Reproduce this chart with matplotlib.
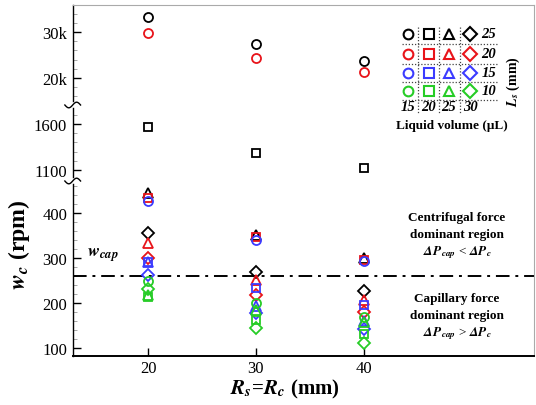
import numpy as np
import matplotlib
matplotlib.use("Agg")
import matplotlib.pyplot as plt
from matplotlib.lines import Line2D

plt.rcParams['font.family'] = ['Liberation Serif', 'DejaVu Serif']
plt.rcParams['mathtext.fontset'] = 'stix'

# ---------------- data ----------------
radii = [20, 30, 40]                     # Rs = Rc (mm)
ls_values = [25, 20, 15, 10]             # Ls (mm) -> colour rows
volumes = [15, 20, 25, 30]               # liquid volume (uL) -> marker columns
w_cap = 260

# w_c (rpm) per Ls, per volume, at radii 20/30/40
ls25_v15 = [33300, 27300, 23700]
ls25_v20 = [1565, 1285, 1118]
ls25_v25 = [443, 351, 300]
ls25_v30 = [356, 270, 228]

ls20_v15 = [29800, 24400, 21200]
ls20_v20 = [432, 346, 296]
ls20_v25 = [332, 252, 207]
ls20_v30 = [300, 219, 181]

ls15_v15 = [426, 340, 293]
ls15_v20 = [292, 234, 196]
ls15_v25 = [290, 193, 160]
ls15_v30 = [262, 178, 144]

ls10_v15 = [250, 201, 170]
ls10_v20 = [213, 163, 131]
ls10_v25 = [218, 185, 158]
ls10_v30 = [232, 145, 112]

ytick_vals = [100, 200, 300, 400, 1100, 1600, 20000, 30000]
ytick_labels = ['100', '200', '300', '400', '1100', '1600', '20k', '30k']
xtick_vals = [20, 30, 40]

series = {
    25: [ls25_v15, ls25_v20, ls25_v25, ls25_v30],
    20: [ls20_v15, ls20_v20, ls20_v25, ls20_v30],
    15: [ls15_v15, ls15_v20, ls15_v25, ls15_v30],
    10: [ls10_v15, ls10_v20, ls10_v25, ls10_v30],
}
colors = {25: 'black', 20: '#e8141a', 15: '#3b3bff', 10: '#26cc26'}
markers = ['o', 's', '^', 'D']
msizes = [6.5, 6, 7, 6.3]

# ---------------- broken-axis scale ----------------
knots_v = np.array([84, 470, 980, 1806, 14050, 36000], dtype=float)
knots_p = np.array([0, 174.7, 174.71, 250.7, 250.71, 351.0])

def fwd(v):
    return np.interp(v, knots_v, knots_p)

def inv(p):
    return np.interp(p, knots_p, knots_v)

W, H = 536, 406
fig = plt.figure(figsize=(W / 100, H / 100), dpi=100)
ax = fig.add_axes([72.7 / W, 1 - 356.7 / H, (534 - 72.7) / W, (356.7 - 5.7) / H])
ax.set_yscale('function', functions=(fwd, inv))
ax.set_ylim(84, 36000)
ax.set_xlim(13, 55.8)

for ls in ls_values:
    for vi, vals in enumerate(series[ls]):
        ax.plot(radii, vals, linestyle='none', marker=markers[vi], ms=msizes[vi],
                mfc='none', mec=colors[ls], mew=1.3, zorder=3)

ax.axhline(w_cap, color='black', lw=1.4, dashes=(7, 3, 1.5, 3), zorder=2)

ax.set_yticks(ytick_vals)
ax.set_yticklabels(ytick_labels)
minors = [v for v in list(range(100, 480, 20)) + list(range(1000, 1801, 100)) +
          list(range(16000, 36001, 2000)) if v not in ytick_vals]
ax.set_yticks(minors, minor=True)
ax.set_xticks(xtick_vals)
ax.tick_params(axis='both', which='major', direction='in', length=6, width=1,
               labelsize=12, pad=4)
ax.tick_params(axis='x', which='major', pad=3)
ax.tick_params(axis='both', which='minor', direction='in', length=3, width=0.6,
               color='#999999')
for sp in ['top', 'right']:
    ax.spines[sp].set_color('#aaaaaa')
ax.spines['left'].set_linewidth(1.0)
ax.spines['bottom'].set_linewidth(1.4)

# break marks on the y axis
for p in [174.7, 250.7]:
    yf = p / 351.0
    ax.plot([-0.004, 0.004], [yf, yf], transform=ax.transAxes, color='white',
            lw=4, clip_on=False, zorder=5)
    t = np.linspace(-1, 1, 30)
    ax.plot(0.017 * t, yf + 0.008 * np.sin(np.pi * t), transform=ax.transAxes,
            color='black', lw=1.0, clip_on=False, zorder=6)

# labels
fig.text(19 / W, 1 - 245 / H, r'$\mathbfit{w}_{\mathbfit{c}}$ (rpm)', rotation=90,
         ha='center', va='center', fontsize=17, fontweight='bold')
fig.text(285 / W, 1 - 389 / H, r'$\mathbfit{R}_{\mathbfit{s}}$=$\mathbfit{R}_{\mathbfit{c}}$ (mm)',
         ha='center', va='center', fontsize=15, fontweight='bold')
fig.text(87 / W, 1 - 264 / H, r'$\mathbfit{w}_{\mathbfit{cap}}$', ha='left', va='bottom',
         fontsize=13)

# region annotations
def ptext(x, y, s, **kw):
    fig.text(x / W, 1 - y / H, s, ha='center', va='center', **kw)

ptext(457, 218, 'Centrifugal force', fontsize=9.5, fontweight='bold')
ptext(457, 235, 'dominant region', fontsize=9.5, fontweight='bold')
ptext(457, 253, r'$\mathbfit{\Delta P}_{\mathbfit{cap}}$ < $\mathbfit{\Delta P}_{\mathbfit{c}}$', fontsize=9.5)
ptext(457, 299, 'Capillary force', fontsize=9.5, fontweight='bold')
ptext(457, 316, 'dominant region', fontsize=9.5, fontweight='bold')
ptext(457, 334, r'$\mathbfit{\Delta P}_{\mathbfit{cap}}$ > $\mathbfit{\Delta P}_{\mathbfit{c}}$', fontsize=9.5)

# legend grid
col_x = [408.3, 428.5, 449, 470]
row_y = [35, 55, 73.5, 91.5]
for ri, ls in enumerate(ls_values):
    for ci in range(4):
        fig.add_artist(Line2D([col_x[ci] / W], [1 - row_y[ri] / H], marker=markers[ci],
                              ms=msizes[ci] + 0.5, mfc='none', mec=colors[ls], mew=1.5,
                              linestyle='none', transform=fig.transFigure))
    ptext(489, row_y[ri], str(ls), fontsize=10.5, fontstyle='italic', fontweight='bold')
for ci, v in enumerate(volumes):
    ptext(col_x[ci], 107.5, str(v), fontsize=10.5, fontstyle='italic', fontweight='bold')
ptext(452, 126, 'Liquid volume (μL)', fontsize=9.5, fontweight='bold')
fig.text(513 / W, 1 - 82 / H, r'$\mathbfit{L}_{\mathbfit{s}}$ (mm)', rotation=90,
         ha='center', va='center', fontsize=10, fontweight='bold')
for xs in [418, 439, 460]:
    fig.add_artist(Line2D([xs / W, xs / W], [1 - 28 / H, 1 - 115 / H], color='#444444',
                          lw=0.9, linestyle=(0, (1, 1.5)), transform=fig.transFigure))
for ys in [45, 64.5, 83, 100.5]:
    fig.add_artist(Line2D([402 / W, 498 / W], [1 - ys / H, 1 - ys / H], color='#444444',
                          lw=0.9, linestyle=(0, (1, 1.5)), transform=fig.transFigure))

fig.savefig('out.png', dpi=100)
